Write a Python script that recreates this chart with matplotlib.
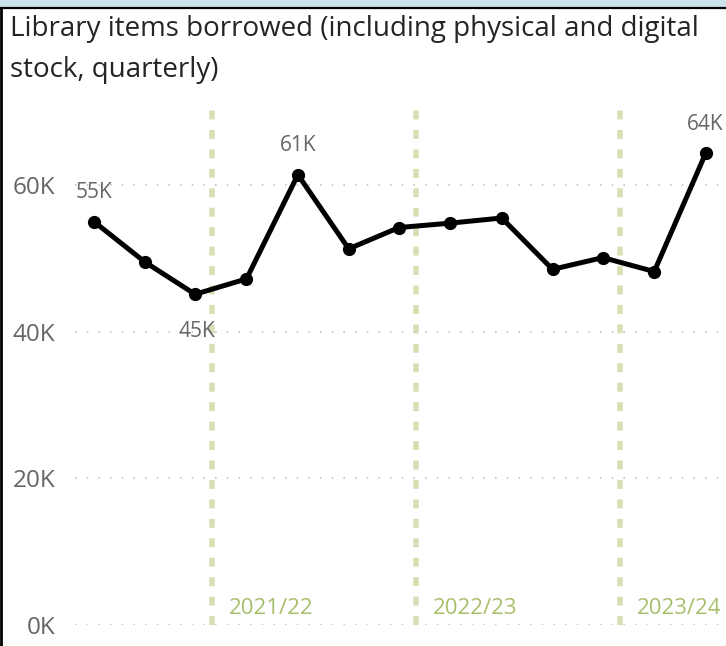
import pandas as pd
import matplotlib.pyplot as plt
from matplotlib.patches import Rectangle
from matplotlib.lines import Line2D

# Quarterly loans, thousands of items (physical + digital)
quarters = pd.to_datetime([
    "2020-09-01", "2020-12-01", "2021-03-01", "2021-06-01", "2021-09-01",
    "2021-12-01", "2022-03-01", "2022-06-01", "2022-09-01", "2022-12-01",
    "2023-03-01", "2023-06-01", "2023-09-01",
])
borrowed_k = [55.0, 49.5, 45.1, 47.2, 61.4, 51.3, 54.2, 54.8, 55.5, 48.5, 50.1, 48.2, 64.3]
labelled = [0, 2, 4, 12]

# Financial years start 1 April
year_starts = pd.to_datetime(["2021-04-01", "2022-04-01", "2023-04-01"])
year_labels = ["2021/22", "2022/23", "2023/24"]

yticks = [0, 20, 40, 60]

plt.rcParams['font.family'] = ['Open Sans', 'DejaVu Sans']

fig = plt.figure(figsize=(7.26, 6.46), dpi=100)

# header strip and frame
fig.patches.append(Rectangle((0, 1 - 7.5 / 646), 1, 7.5 / 646, transform=fig.transFigure,
                             facecolor='#cce2ea', edgecolor='none', zorder=0))
fig.lines.append(Line2D([0, 1], [1 - 8 / 646] * 2, transform=fig.transFigure,
                        color='black', lw=1.6))
fig.lines.append(Line2D([1 / 726] * 2, [0, 1 - 8 / 646], transform=fig.transFigure,
                        color='black', lw=2))

fig.text(10 / 726, 1 - 15 / 646, "Library items borrowed (including physical and digital\nstock, quarterly)",
         ha='left', va='top', fontsize=20, color='#252423', linespacing=1.62)

ax = fig.add_axes([75 / 726, 21 / 646, 651 / 726, 517 / 646])

q = pd.Timedelta(days=91.3)
ax.set_xlim(quarters[0] - 0.373 * q, quarters[-1] + 0.40 * q)
ax.set_ylim(0, 70.5)

for s in ax.spines.values():
    s.set_visible(False)
ax.set_xticks([])
ax.set_yticks(yticks)
ax.set_yticklabels([f"{v}K" for v in yticks])
ax.tick_params(axis='y', length=0, pad=14, labelsize=17.5, labelcolor='#666666')
ax.yaxis.grid(True, color='#c4c4c4', lw=1.2, linestyle=(0, (1, 6)))
ax.set_axisbelow(True)

for start, lab in zip(year_starts, year_labels):
    ax.axvline(start, color='#d7dfb3', lw=4, linestyle=(0, (1.6, 1.9)), zorder=1)
    ax.annotate(lab, xy=(start, 0), xytext=(12, 4), textcoords='offset points',
                ha='left', va='bottom', fontsize=16, color='#a7bf6b')

ax.plot(quarters, borrowed_k, color='black', lw=3.6, marker='o', markersize=8.5,
        solid_joinstyle='round', zorder=3)

for i in labelled:
    v = borrowed_k[i]
    is_low = v == min(borrowed_k)
    ax.annotate(f"{round(v)}K", xy=(quarters[i], v),
                xytext=(1, -27) if is_low else (0, 21), textcoords='offset points',
                ha='center', va='center', fontsize=15, color='#666666', zorder=4)

fig.savefig("out.png", dpi=100)
